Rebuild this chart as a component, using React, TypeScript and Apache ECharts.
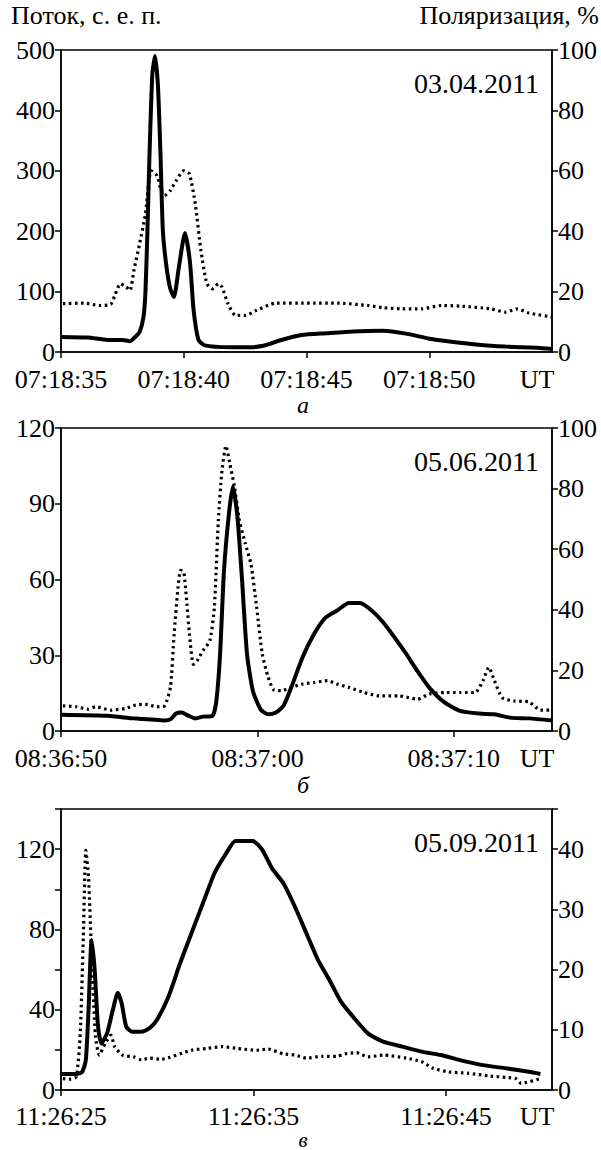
import React, { useEffect, useRef } from "react";
import * as echarts from "echarts";

// Panel а — 03.04.2011, t in seconds from 07:18:35
const T_FLUX_A = [0, 1.1, 1.9, 2.5, 2.8, 3.0, 3.2, 3.36, 3.44, 3.52, 3.6, 3.72, 3.83, 3.95, 4.05, 4.15, 4.3, 4.45, 4.6, 4.8, 5.05, 5.25, 5.4, 5.6, 5.85, 6.9, 7.8, 8.4, 8.9, 9.8, 10.8, 11.9, 13.1, 14.1, 15, 15.9, 17, 18.1, 19.4, 20];
const FLUX_A = [25, 24, 20, 20, 18, 24, 33, 58, 100, 200, 320, 460, 490, 440, 330, 200, 140, 105, 91, 140, 197, 150, 70, 20, 11, 8, 8, 12, 19, 28, 31, 34, 35, 30, 22, 17, 12, 9, 7, 5];
const T_POL_A = [0.08, 0.94, 1.56, 2.03, 2.19, 2.42, 2.66, 2.81, 2.97, 3.2, 3.44, 3.67, 3.91, 4.06, 4.22, 4.45, 4.69, 5.0, 5.23, 5.47, 5.7, 5.94, 6.17, 6.41, 6.56, 6.8, 7.11, 7.5, 7.97, 8.75, 10, 11.25, 12.5, 13.1, 13.9, 14.7, 15.5, 16.25, 17.5, 18.1, 18.6, 19.06, 20];
const POL_A = [16, 16.2, 15.4, 15.8, 18.7, 22.6, 21.5, 20.4, 27, 35.8, 45.7, 60, 58.4, 54, 51.8, 53.4, 56.7, 60, 59, 49, 33.6, 22.6, 20.9, 22.6, 21.5, 16, 12.1, 12.1, 13.8, 16.2, 16.2, 16.2, 15.4, 14.7, 14.3, 14.3, 15.4, 15.2, 14.3, 13.2, 14.3, 12.9, 11.6];

// Panel б — 05.06.2011, t in seconds from 08:36:50
const T_FLUX_B = [0, 2.34, 3.71, 5.27, 5.57, 5.86, 6.15, 6.45, 6.84, 7.23, 7.71, 7.91, 8.1, 8.3, 8.55, 8.75, 8.98, 9.22, 9.47, 9.77, 10.16, 10.55, 10.94, 11.33, 11.72, 12.3, 12.89, 13.48, 14.06, 14.65, 15.23, 15.82, 16.41, 16.99, 17.58, 18.16, 18.75, 19.53, 20.31, 21.29, 22.07, 22.85, 23.83, 25];
const FLUX_B = [6.4, 6, 5, 4.2, 4.6, 6.9, 7.3, 6.2, 5, 5.7, 6, 11.9, 30.5, 63.7, 86, 96.8, 85, 59.7, 30.5, 15.9, 8.6, 6.6, 7.3, 10, 17.2, 29.2, 38.5, 45, 47.7, 50.7, 50.7, 47.7, 43, 37, 30.5, 23.6, 17.2, 11.3, 8, 6.9, 6.6, 5.3, 5, 4.2];
const T_POL_B = [0.1, 0.78, 1.37, 1.76, 2.54, 3.32, 3.81, 4.3, 4.88, 5.27, 5.57, 5.76, 5.96, 6.09, 6.25, 6.41, 6.54, 6.74, 6.93, 7.23, 7.58, 7.81, 8.01, 8.2, 8.4, 8.59, 8.83, 9.08, 9.38, 9.67, 9.96, 10.25, 10.55, 10.84, 11.23, 11.72, 12.3, 12.89, 13.57, 14.06, 14.65, 15.43, 16.21, 17.19, 18.16, 18.75, 19.53, 20.31, 21.09, 21.48, 21.78, 22.07, 22.46, 23.05, 23.83, 24.41, 25];
const POL_B = [8.3, 8, 7.2, 8, 6.9, 7.5, 8.6, 8.8, 8, 8.3, 14.4, 32, 47.5, 53, 52.5, 42, 32, 22, 23.2, 26.5, 29.8, 40.9, 69.6, 86.2, 94.1, 88.4, 80.7, 69.6, 61.9, 55.2, 40.9, 25.4, 17.7, 13.5, 13.3, 14.4, 15.5, 16, 16.6, 15.5, 14.4, 12.7, 11.6, 11.6, 10.5, 12.2, 12.7, 12.7, 12.7, 16.6, 21, 16.6, 11, 9.9, 9.6, 6.9, 6.9];

// Panel в — 05.09.2011, t in seconds from 11:26:25
const T_FLUX_C = [0, 0.8, 1.1, 1.29, 1.43, 1.59, 1.75, 1.91, 2.09, 2.39, 2.69, 2.95, 3.15, 3.39, 3.69, 4.18, 4.58, 4.98, 5.58, 6.18, 6.77, 7.37, 7.97, 8.57, 9.06, 9.96, 10.46, 10.96, 11.55, 12.15, 12.75, 13.35, 13.94, 14.54, 15.14, 15.94, 16.73, 17.73, 18.73, 19.72, 20.72, 21.91, 23.11, 24.3, 24.9];
const FLUX_C = [8, 8, 9, 15, 40, 74.7, 59.8, 33.2, 23.2, 28.2, 39.8, 48.5, 43.2, 31.5, 29, 29, 30.7, 34.9, 46.5, 63, 78, 93, 108, 117.8, 124.1, 124.1, 119.5, 110.4, 103, 91.3, 78, 64.7, 54.8, 44, 36.8, 28.2, 24.1, 21.6, 19.1, 17.4, 14.9, 12.4, 10.8, 9.1, 8];
const T_POL_C = [0.1, 0.5, 0.8, 1.0, 1.16, 1.29, 1.43, 1.59, 1.79, 1.99, 2.29, 2.59, 2.79, 3.19, 3.78, 4.18, 4.58, 5.18, 6.77, 7.57, 8.37, 9.16, 10.16, 10.76, 11.55, 12.15, 12.75, 13.55, 14.34, 14.74, 15.34, 15.94, 16.73, 17.93, 18.73, 19.32, 20.12, 21.11, 22.31, 23.11, 23.61, 23.9, 24.9];
const POL_C = [1.9, 1.8, 2.2, 9.4, 25.5, 39.8, 35.4, 22.1, 8.9, 5.8, 7.7, 9.1, 7.2, 5.8, 5.5, 5, 5.3, 5.1, 6.6, 6.9, 7.2, 6.9, 6.6, 6.8, 6, 5.8, 5.3, 5.6, 5.6, 6, 6.2, 5.5, 5.8, 5.3, 4.7, 3.6, 3, 2.8, 2.3, 2.1, 1.9, 1.1, 1.9];

const FONT = "'Liberation Serif', 'Times New Roman', serif";

function pairs(t: number[], v: number[]) {
  return t.map((x, i) => [x, v[i]]);
}

function timeFmt(base: number[], interval: number) {
  return (v: number) => {
    if (Math.abs(v / interval - Math.round(v / interval)) > 1e-6) return "";
    let s = base[0] * 3600 + base[1] * 60 + base[2] + Math.round(v);
    const h = Math.floor(s / 3600);
    s -= h * 3600;
    const m = Math.floor(s / 60);
    s -= m * 60;
    const p = (n: number) => (n < 10 ? "0" + n : "" + n);
    return p(h) + ":" + p(m) + ":" + p(s);
  };
}

const GRIDS = [
  { left: 61, top: 50, width: 491, height: 302 },
  { left: 61, top: 428, width: 491, height: 303 },
  { left: 61, top: 809, width: 491, height: 281 },
];
const X_MARGINS = [14, 14, 13.5];
const CAPTION_OFFSETS = [53, 54, 49.5];
const CAPTION_SIZES = [24, 24, 21];

export default function App() {
  const ref = useRef<HTMLDivElement>(null);
  useEffect(() => {
    if (!ref.current) return;
    const chart = echarts.init(ref.current, undefined, { renderer: "svg" });
    const axisLine = { show: true, lineStyle: { color: "#000", width: 1.5 } };
    const axisTick = { show: true, inside: false, length: 6, lineStyle: { color: "#000", width: 1.5 } };
    const xDefs = [
      { max: 20, interval: 5, base: [7, 18, 35] },
      { max: 25, interval: 10, base: [8, 36, 50] },
      { max: 25.5, interval: 10, base: [11, 26, 25] },
    ];
    const yLeft = [
      { max: 500, interval: 100, lab: 100 },
      { max: 120, interval: 30, lab: 30 },
      { max: 140, interval: 20, lab: 40 },
    ];
    const yRight = [
      { max: 100, interval: 20, lab: 20 },
      { max: 100, interval: 20, lab: 20 },
      { max: 140 / 3, interval: 10, lab: 10 },
    ];
    const xAxis = xDefs.map((d, i) => ({
      type: "value",
      gridIndex: i,
      min: 0,
      max: d.max,
      interval: d.interval,
      axisLine,
      axisTick,
      splitLine: { show: false },
      axisLabel: {
        color: "#000",
        fontFamily: FONT,
        fontSize: 26,
        margin: X_MARGINS[i],
        showMaxLabel: false,
        formatter: (v: number) => (v >= d.max - 1e-6 ? "" : timeFmt(d.base, d.interval)(v)),
      },
    }));
    const yAxis: any[] = [];
    const yFmt = (lab: number) => (v: number) =>
      Math.abs(v / lab - Math.round(v / lab)) < 1e-6 ? String(Math.round(v)) : "";
    const yLabel = { color: "#000", fontFamily: FONT, fontSize: 26, margin: 6 };
    yLeft.forEach((d, i) => {
      yAxis.push({
        type: "value",
        gridIndex: i,
        position: "left",
        min: 0,
        max: d.max,
        interval: d.interval,
        axisLine,
        axisTick,
        splitLine: { show: false },
        axisLabel: { ...yLabel, formatter: yFmt(d.lab) },
      });
    });
    yRight.forEach((d, i) => {
      yAxis.push({
        type: "value",
        gridIndex: i,
        position: "right",
        min: 0,
        max: d.max,
        interval: d.interval,
        axisLine,
        axisTick,
        splitLine: { show: false },
        axisLabel: { ...yLabel, formatter: yFmt(d.lab) },
      });
    });
    const fluxes = [pairs(T_FLUX_A, FLUX_A), pairs(T_FLUX_B, FLUX_B), pairs(T_FLUX_C, FLUX_C)];
    const pols = [pairs(T_POL_A, POL_A), pairs(T_POL_B, POL_B), pairs(T_POL_C, POL_C)];
    const series: any[] = [];
    [0, 1, 2].forEach((i) => {
      series.push({
        type: "line",
        name: "pol" + i,
        xAxisIndex: i,
        yAxisIndex: 3 + i,
        data: pols[i],
        showSymbol: false,
        smooth: 0.2,
        lineStyle: { color: "#000", width: 3.2, type: [2.5, 3.5], cap: "butt" },
        z: 2,
      });
      series.push({
        type: "line",
        name: "flux" + i,
        xAxisIndex: i,
        yAxisIndex: i,
        data: fluxes[i],
        showSymbol: false,
        smooth: 0.2,
        lineStyle: { color: "#000", width: 4 },
        z: 3,
      });
    });
    const dates = ["03.04.2011", "05.06.2011", "05.09.2011"];
    const captions = ["а", "б", "в"];
    const graphic: any[] = [
      { type: "text", left: 11, top: 2, style: { text: "Поток, с. е. п.", fontFamily: FONT, fontSize: 26, fill: "#000" } },
      { type: "text", right: 2, top: 2, style: { text: "Поляризация, %", fontFamily: FONT, fontSize: 26, fill: "#000" } },
    ];
    GRIDS.forEach((g, i) => {
      graphic.push({
        type: "text",
        x: 539,
        y: g.top + 33,
        style: { text: dates[i], fontFamily: FONT, fontSize: 28, fill: "#000", align: "right", verticalAlign: "middle" },
      });
      graphic.push({
        type: "text",
        x: 537,
        y: g.top + g.height + X_MARGINS[i],
        style: { text: "UT", fontFamily: FONT, fontSize: 26, fill: "#000", align: "center", verticalAlign: "top" },
      });
      graphic.push({
        type: "text",
        x: 303,
        y: g.top + g.height + CAPTION_OFFSETS[i],
        style: { text: captions[i], fontFamily: FONT, fontSize: CAPTION_SIZES[i], fontStyle: "italic", fill: "#000", align: "center", verticalAlign: "middle" },
      });
    });
    chart.setOption({
      animation: false,
      backgroundColor: "#fff",
      grid: GRIDS.map((g) => ({ ...g, show: true, borderColor: "#000", borderWidth: 1.5, backgroundColor: "transparent" })),
      xAxis,
      yAxis,
      series,
      graphic,
    });
    return () => chart.dispose();
  }, []);
  return <div ref={ref} style={{ position: "absolute", left: 0, top: 0, width: 601, height: 1150, background: "#fff" }} />;
}
